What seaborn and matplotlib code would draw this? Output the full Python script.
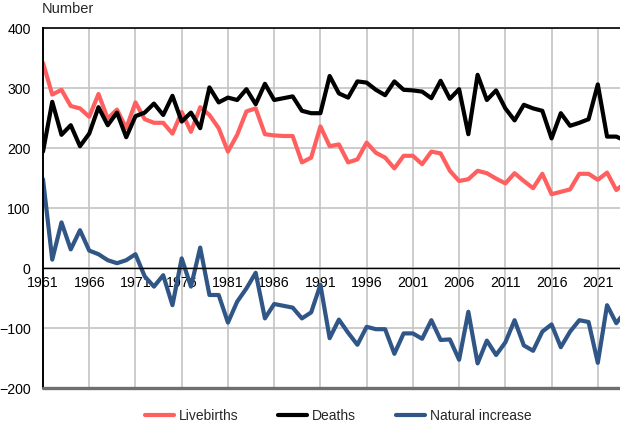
import pandas as pd
import matplotlib
matplotlib.use("Agg")
import matplotlib.pyplot as plt
import seaborn as sns

# Data
years = list(range(1961, 2025))
livebirths = [342, 289, 297, 270, 266, 252, 290, 249, 264, 233,
              276, 248, 242, 242, 224, 260, 227, 268, 255, 233,
              194, 222, 261, 266, 223, 221, 220, 220, 176, 184,
              236, 203, 206, 176, 181, 209, 192, 184, 166, 187,
              187, 173, 194, 191, 162, 145, 148, 162, 158, 149,
              141, 158, 145, 133, 157, 123, 127, 131, 157, 157,
              147, 159, 130, 142]
deaths = [194, 277, 222, 238, 203, 224, 268, 238, 259, 218,
          253, 259, 274, 255, 287, 244, 259, 233, 301, 276,
          284, 280, 298, 273, 307, 280, 283, 286, 262, 258,
          258, 320, 291, 284, 311, 309, 297, 288, 311, 297,
          296, 294, 283, 312, 282, 298, 223, 322, 280, 296,
          266, 246, 272, 266, 262, 216, 258, 237, 242, 248,
          306, 219, 219, 212]
natural_increase = [148, 14, 76, 31, 63, 29, 23, 13, 8, 13,
                    23, -14, -31, -12, -62, 16, -31, 34, -45, -45,
                    -91, -56, -34, -8, -84, -60, -63, -66, -84, -74,
                    -28, -117, -86, -108, -128, -98, -102, -102, -143, -109,
                    -109, -118, -87, -120, -119, -153, -73, -159, -121, -145,
                    -124, -87, -129, -138, -106, -94, -132, -106, -87, -90,
                    -158, -62, -92, -72]
series_names = ["Livebirths", "Deaths", "Natural increase"]
colors = ["#FF5F5F", "#000000", "#2F5686"]
xticks = list(range(1961, 2022, 5))
yticks = list(range(-200, 401, 100))

df = pd.DataFrame({"Year": years,
                   "Livebirths": livebirths,
                   "Deaths": deaths,
                   "Natural increase": natural_increase})
long_df = df.melt(id_vars="Year", var_name="Series", value_name="Number")

sns.set_style("white")
plt.rcParams["font.family"] = ["Liberation Sans", "DejaVu Sans"]
plt.rcParams["font.size"] = 10

fig = plt.figure(figsize=(6.2, 4.26), dpi=100)
ax = fig.add_axes([43 / 620, 1 - 388 / 426, 1 - 43 / 620, 360 / 426])

sns.lineplot(data=long_df, x="Year", y="Number", hue="Series",
             hue_order=series_names, palette=dict(zip(series_names, colors)),
             linewidth=3.0, ax=ax)

ax.set_xlim(1961, 2023.4)
ax.set_ylim(-200, 400)
ax.set_xticks(xticks)
ax.set_yticks(yticks)
ax.set_xlabel("")
ax.set_ylabel("")
ax.grid(True, color="#C4C4C4", linewidth=1.2)
ax.set_axisbelow(True)

ax.spines["bottom"].set_position(("data", 0))
ax.spines["bottom"].set_linewidth(1.0)
ax.spines["bottom"].set_color("black")
ax.spines["left"].set_linewidth(1.4)
ax.spines["left"].set_color("black")
ax.spines["top"].set_linewidth(1.2)
ax.spines["top"].set_color("black")
ax.spines["right"].set_visible(False)
ax.axhline(-200, color="#6E6E6E", linewidth=2.4, clip_on=False, zorder=3)
ax.tick_params(axis="both", length=0, labelsize=10.2, colors="black")
ax.tick_params(axis="x", pad=6)
ax.tick_params(axis="y", pad=9)

fig.text(42 / 620, 1 - 9 / 426, "Number", ha="left", va="center", fontsize=10.5)

handles, labels = ax.get_legend_handles_labels()
ax.get_legend().remove()
fig.legend(handles, labels, loc="center", ncol=3,
           bbox_to_anchor=(338 / 620, 1 - 416 / 426), frameon=False,
           handlelength=2.1, handletextpad=0.36, columnspacing=2.85,
           fontsize=10)

fig.savefig("out.png", dpi=100)
